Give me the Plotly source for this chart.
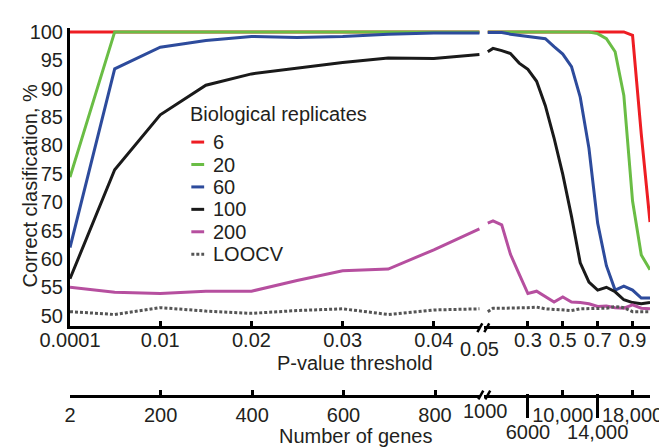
import plotly.graph_objects as go

# ---------------- data ----------------
p_left = [0.0001, 0.005, 0.01, 0.015, 0.02, 0.025, 0.03, 0.035, 0.04, 0.045]
p_right = [0.07, 0.1, 0.15, 0.2, 0.25, 0.3, 0.35, 0.4, 0.45, 0.5,
           0.55, 0.6, 0.65, 0.7, 0.75, 0.8, 0.85, 0.9, 0.95, 1.0]

r6_left = [100, 100, 100, 100, 100, 100, 100, 100, 100, 100]
r6_right = [100, 100, 100, 100, 100, 100, 100, 100, 100, 100,
            100, 100, 100, 100, 100, 100, 100, 99.4, 82.0, 66.5]

r20_left = [74.4, 100, 100, 100, 100, 100, 100, 100, 100, 100]
r20_right = [100, 100, 100, 100, 100, 100, 100, 100, 100, 100,
             100, 100, 100, 99.7, 98.8, 96.5, 88.8, 70.2, 60.7, 58.1]

r60_left = [62.0, 93.5, 97.3, 98.5, 99.2, 99.0, 99.2, 99.6, 99.8, 99.8]
r60_right = [99.9, 99.9, 99.9, 99.6, 99.4, 99.1, 99.0, 98.8, 97.4, 96.1,
             93.9, 88.5, 79.5, 66.3, 58.8, 54.5, 55.2, 54.5, 53.1, 53.1]

r100_left = [56.5, 75.7, 85.4, 90.6, 92.6, 93.6, 94.6, 95.4, 95.3, 96.0]
r100_right = [96.5, 97.1, 96.7, 96.2, 94.5, 93.4, 91.3, 87.0, 81.3, 74.9,
              67.5, 59.3, 55.9, 54.5, 55.0, 54.2, 52.8, 52.3, 52.1, 52.3]

r200_left = [55.0, 54.1, 53.9, 54.3, 54.3, 56.2, 57.9, 58.2, 61.6, 65.3]
r200_right = [66.3, 66.7, 66.0, 60.8, 57.3, 53.9, 54.3, 53.3, 52.4, 53.3,
              52.4, 52.3, 52.1, 51.6, 51.7, 51.4, 51.3, 51.9, 51.3, 51.2]

loocv_left = [50.7, 50.2, 51.4, 50.8, 50.4, 50.9, 51.2, 50.2, 51.0, 51.2]
loocv_right = [50.7, 51.3, 51.3, 51.3, 51.3, 51.4, 51.5, 51.2, 51.1, 51.0,
               50.9, 51.2, 51.2, 51.2, 51.3, 51.6, 51.4, 50.7, 50.7, 50.7]

series_names = ["6", "20", "60", "100", "200", "LOOCV"]
series_left = [r6_left, r20_left, r60_left, r100_left, r200_left, loocv_left]
series_right = [r6_right, r20_right, r60_right, r100_right, r200_right, loocv_right]
series_colors = ["#EE1D23", "#6ABD45", "#2D4B9C", "#1A1A1A", "#B64F9F", "#555555"]
series_dash = ["solid", "solid", "solid", "solid", "solid", "3px,2px"]

legend_title = "Biological replicates"

y_ticks = [50, 55, 60, 65, 70, 75, 80, 85, 90, 95, 100]
p_ticks_left = [0.0001, 0.01, 0.02, 0.03, 0.04]
p_ticklabels_left = ["0.0001", "0.01", "0.02", "0.03", "0.04"]
p_ticks_right = [0.3, 0.5, 0.7, 0.9]
p_ticklabels_right = ["0.3", "0.5", "0.7", "0.9"]
p_break_label = "0.05"

gene_ticks_left = [2, 200, 400, 600, 800]
gene_ticklabels_left = ["2", "200", "400", "600", "800"]
gene_ticks_right_upper = [10000, 18000]
gene_ticklabels_right_upper = ["10,000", "18,000"]
gene_ticks_right_lower = [6000, 14000]
gene_ticklabels_right_lower = ["6000", "14,000"]
gene_break_label = "1000"

x_title = "P-value threshold"
x2_title = "Number of genes"
y_title = "Correct clasification, %"

# ---------------- layout helpers ----------------
FONT = "Liberation Sans, Arial, sans-serif"
TXT = "#231F20"
FS = 20
W, H = 667, 447
ML, MR, MT, MB = 62, 17, 20, 27
PW, PH = W - ML - MR, H - MT - MB


def px(xp):
    return (xp - ML) / PW


def py(yp):
    return (H - MB - yp) / PH


fig = go.Figure()

for name, yl, yr, c, d in zip(series_names, series_left, series_right,
                              series_colors, series_dash):
    fig.add_trace(go.Scatter(x=p_left, y=yl, mode="lines", name=name,
                             line=dict(color=c, width=3, dash=d),
                             xaxis="x", yaxis="y", showlegend=False))
    fig.add_trace(go.Scatter(x=p_right, y=yr, mode="lines", name=name,
                             line=dict(color=c, width=3, dash=d),
                             xaxis="x2", yaxis="y", showlegend=False))

# empty traces so the gene axes get drawn
for ax, xs in (("x3", gene_ticks_left), ("x4", gene_ticks_right_upper),
               ("x5", gene_ticks_right_lower)):
    fig.add_trace(go.Scatter(x=xs, y=[None] * len(xs), mode="lines",
                             xaxis=ax, yaxis="y", showlegend=False,
                             hoverinfo="skip"))

axis_common = dict(showline=True, linewidth=3, linecolor="black",
                   ticks="inside", ticklen=5, tickwidth=2.5, tickcolor="black",
                   showgrid=False, zeroline=False,
                   tickfont=dict(family=FONT, size=FS, color=TXT))

Y_BOT_PX = 326
y_lo = 50 - (Y_BOT_PX - 315) / 5.82

fig.update_layout(
    width=W, height=H,
    margin=dict(l=ML, r=MR, t=MT, b=MB),
    paper_bgcolor="white", plot_bgcolor="rgba(0,0,0,0)",
    showlegend=False,
    xaxis=dict(domain=[0, px(478)], range=[0.0001, 0.0451], anchor="y",
               tickmode="array", tickvals=p_ticks_left,
               ticktext=p_ticklabels_left, ticklabelstandoff=-6,
               **axis_common),
    xaxis2=dict(domain=[px(482), 1], range=[0.05, 1.0], anchor="y",
                tickmode="array", tickvals=p_ticks_right,
                ticktext=p_ticklabels_right, ticklabelstandoff=-6,
                **axis_common),
    xaxis3=dict(overlaying="x", anchor="free", position=py(397),
                range=[2, 899], tickmode="array", tickvals=gene_ticks_left,
                ticktext=gene_ticklabels_left, **axis_common),
    xaxis4=dict(overlaying="x2", anchor="free", position=py(397),
                range=[1000, 20000], tickmode="array",
                tickvals=gene_ticks_right_upper,
                ticktext=gene_ticklabels_right_upper, **axis_common),
    xaxis5=dict(overlaying="x2", anchor="free", position=0,
                range=[1000, 20000], tickmode="array",
                tickvals=gene_ticks_right_lower,
                ticktext=gene_ticklabels_right_lower,
                showline=False, ticks="inside", ticklen=24, tickwidth=3,
                tickcolor="black", showgrid=False, zeroline=False,
                tickfont=dict(family=FONT, size=FS, color=TXT)),
    yaxis=dict(domain=[py(Y_BOT_PX), 1], range=[y_lo, 100.69],
               tickmode="array", tickvals=y_ticks,
               ticktext=[str(v) for v in y_ticks],
               showline=True, linewidth=3, linecolor="black", ticks="",
               showgrid=False, zeroline=False,
               tickfont=dict(family=FONT, size=FS, color=TXT)),
)

ann = []
shapes = []


def text_ann(text, xp, yp, xanchor="center", angle=0):
    return dict(text=text, x=px(xp), y=py(yp), xref="paper", yref="paper",
                xanchor=xanchor, yanchor="middle", textangle=angle,
                showarrow=False, font=dict(family=FONT, size=FS, color=TXT))


# titles
ann.append(text_ann(y_title, 21, 182, angle=-90))
ann.append(text_ann(x_title, 351, 364))
ann.append(text_ann(x2_title, 351, 438))
# labels at the axis break
ann.append(text_ann(p_break_label, 477, 349))
ann.append(text_ann(gene_break_label, 483, 413))

# break marks //
for (x0, y0, x1, y1) in [(475, 332, 480, 323), (482, 332, 487, 323),
                         (476, 401, 481, 392), (483, 401, 488, 392)]:
    shapes.append(dict(type="line", xref="paper", yref="paper",
                       x0=px(x0), y0=py(y0), x1=px(x1), y1=py(y1),
                       line=dict(color="black", width=2.5)))

# legend
ann.append(text_ann(legend_title, 182, 108, xanchor="left"))
for i, (name, c, d) in enumerate(zip(series_names, series_colors, series_dash)):
    yc = 137 + 23 * i
    shapes.append(dict(type="line", xref="paper", yref="paper",
                       x0=px(185), x1=px(198), y0=py(yc), y1=py(yc),
                       line=dict(color=c, width=3, dash=d)))
    ann.append(text_ann(name, 205, yc, xanchor="left"))

fig.update_layout(annotations=ann, shapes=shapes)
fig.write_html("out.html")
